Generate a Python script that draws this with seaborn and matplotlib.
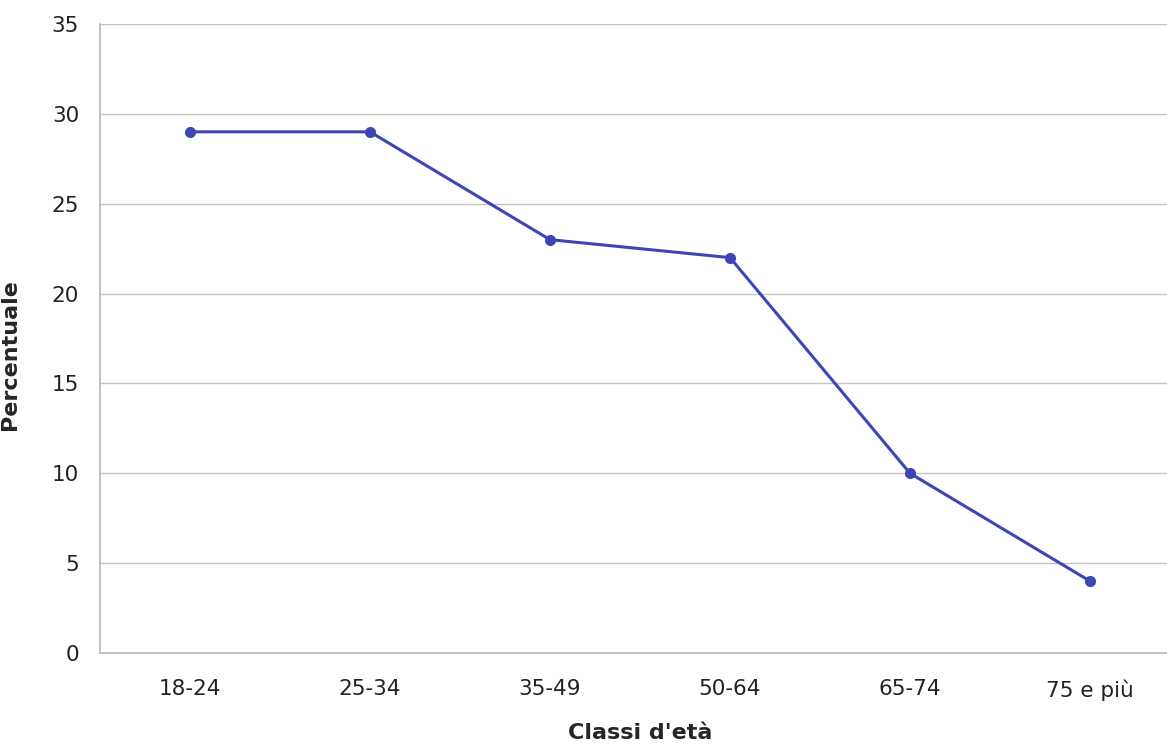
import matplotlib
matplotlib.use("Agg")
import matplotlib.pyplot as plt
import seaborn as sns
import pandas as pd
import numpy as np

# data
classi = ["18-24", "25-34", "35-49", "50-64", "65-74", "75 e più"]
percentuale = [29, 29, 23, 22, 10, 4]

df = pd.DataFrame({"classe": classi, "perc": percentuale})
df["pos"] = np.arange(len(classi))

sns.set_style("white")
plt.rcParams["font.family"] = ["DejaVu Sans"]

fig = plt.figure(figsize=(11.67, 7.44), dpi=100)
ax = fig.add_axes([100 / 1167, (744 - 653) / 744, 1080 / 1167, 629 / 744])

sns.lineplot(data=df, x="pos", y="perc", ax=ax, color="#3c46b4", linewidth=2.2,
             marker="o", markersize=8, markeredgewidth=0, zorder=3)

ax.set_xlim(-0.5, len(classi) - 0.5)
ax.set_ylim(0, 35)
ax.set_yticks(range(0, 36, 5))
ax.set_xticks(df["pos"])
ax.set_xticklabels(classi)
ax.set_xticks(np.arange(-0.5, len(classi)), minor=True)
ax.tick_params(axis="x", which="major", length=0, pad=19, labelsize=15.5, colors="#222222")
ax.tick_params(axis="x", which="minor", length=5, width=1, color="#b0b0b0", direction="out")
ax.tick_params(axis="y", length=5, width=1, color="#b0b0b0", pad=10, labelsize=15.5,
               labelcolor="#222222", direction="out")

ax.grid(axis="y", color="#c4c4c4", linewidth=1)
ax.set_axisbelow(True)
for s in ["top", "right"]:
    ax.spines[s].set_visible(False)
for s in ["left", "bottom"]:
    ax.spines[s].set_color("#b8b8b8")
    ax.spines[s].set_linewidth(1.2)

ax.set_xlabel("Classi d'età", fontsize=16, fontweight="bold", labelpad=16)
ax.set_ylabel("Percentuale", fontsize=16, fontweight="bold")
ax.yaxis.set_label_coords(-0.074, 0.475)

fig.savefig("out.png", dpi=100)
